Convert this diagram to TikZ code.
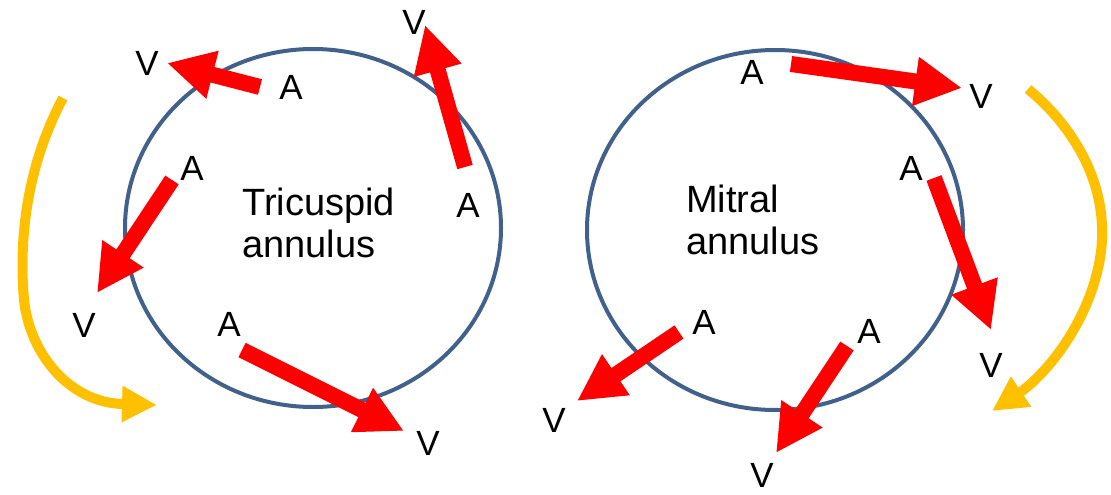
\documentclass[tikz,border=0pt]{standalone}
\usepackage{fontspec}
\setmainfont{Liberation Sans}
\usetikzlibrary{arrows.meta}
\definecolor{ringblue}{HTML}{41618C}
\definecolor{arrred}{HTML}{FF0000}
\definecolor{arryel}{HTML}{FFC000}
\begin{document}
\begin{tikzpicture}[x=1pt,y=-1pt,
  ring/.style={draw=ringblue,line width=4pt},
  redarrow/.style={draw=arrred,line width=16pt,-{Triangle[length=47pt,width=46pt]}},
  yelarrow/.style={draw=arryel,line width=10pt,-{Triangle[length=35pt,width=34pt]}},
  lbl/.style={inner sep=0pt,font=\fontsize{35}{35}\selectfont},
  annlabel/.style={inner sep=0pt,anchor=north west,align=left,font=\fontsize{38}{42}\selectfont}]
\useasboundingbox (0,0) rectangle (1111,495);
% rings
\draw[ring] (313,228) ellipse [x radius=188pt, y radius=179pt];
\draw[ring] (775,230) ellipse [x radius=188pt, y radius=180pt];
% titles
\node[annlabel] (tri) at (242,188) {Tricuspid\\annulus};
\node[annlabel] (mit) at (686,185) {Mitral\\annulus};
% labels left
\node[lbl] (lv1) at (147,63) {V};
\node[lbl] (la1) at (291,87) {A};
\node[lbl] (lv2) at (414,22) {V};
\node[lbl] (la2) at (192,168) {A};
\node[lbl] (la3) at (468,205) {A};
\node[lbl] (lv3) at (84,325) {V};
\node[lbl] (la4) at (229,324) {A};
\node[lbl] (lv4) at (428,443) {V};
% labels right
\node[lbl] (ra1) at (752,72) {A};
\node[lbl] (rv1) at (981,96) {V};
\node[lbl] (ra2) at (911,168) {A};
\node[lbl] (ra3) at (704,322) {A};
\node[lbl] (ra4) at (869,331) {A};
\node[lbl] (rv2) at (991,365) {V};
\node[lbl] (rv3) at (554,420) {V};
\node[lbl] (rv4) at (762,475) {V};
% arrow end points
\coordinate (t1) at (260,87);  \coordinate (h1) at (167,63);
\coordinate (t2) at (465,167); \coordinate (h2) at (425,25);
\coordinate (t3) at (172,180); \coordinate (h3) at (97,293);
\coordinate (t4) at (242,350); \coordinate (h4) at (404,431);
\coordinate (t5) at (791,64);  \coordinate (h5) at (962,88);
\coordinate (t6) at (934,178); \coordinate (h6) at (991,330);
\coordinate (t7) at (679,332); \coordinate (h7) at (577,401);
\coordinate (t8) at (847,346); \coordinate (h8) at (776,453);
% red arrows
\draw[redarrow] (t1) -- (h1);
\draw[redarrow] (t2) -- (h2);
\draw[redarrow] (t3) -- (h3);
\draw[redarrow] (t4) -- (h4);
\draw[redarrow] (t5) -- (h5);
\draw[redarrow] (t6) -- (h6);
\draw[redarrow] (t7) -- (h7);
\draw[redarrow] (t8) -- (h8);
% yellow arrows
\coordinate (ys1) at (63,98);
\coordinate (yb1) at (122,404);
\coordinate (ye1) at (157,405);
\draw[yelarrow] (ys1) .. controls (30,160) and (18,230) .. (24,300)
  .. controls (30,355) and (70,402) .. (yb1) -- (ye1);
\coordinate (ys2) at (1028,89);
\coordinate (yb2) at (1022,391);
\coordinate (ye2) at (992,411);
\draw[yelarrow] (ys2) .. controls (1068,122) and (1105,175) .. (1102,240)
  .. controls (1099,300) and (1060,362) .. (yb2) -- (ye2);
\end{tikzpicture}
\end{document}
